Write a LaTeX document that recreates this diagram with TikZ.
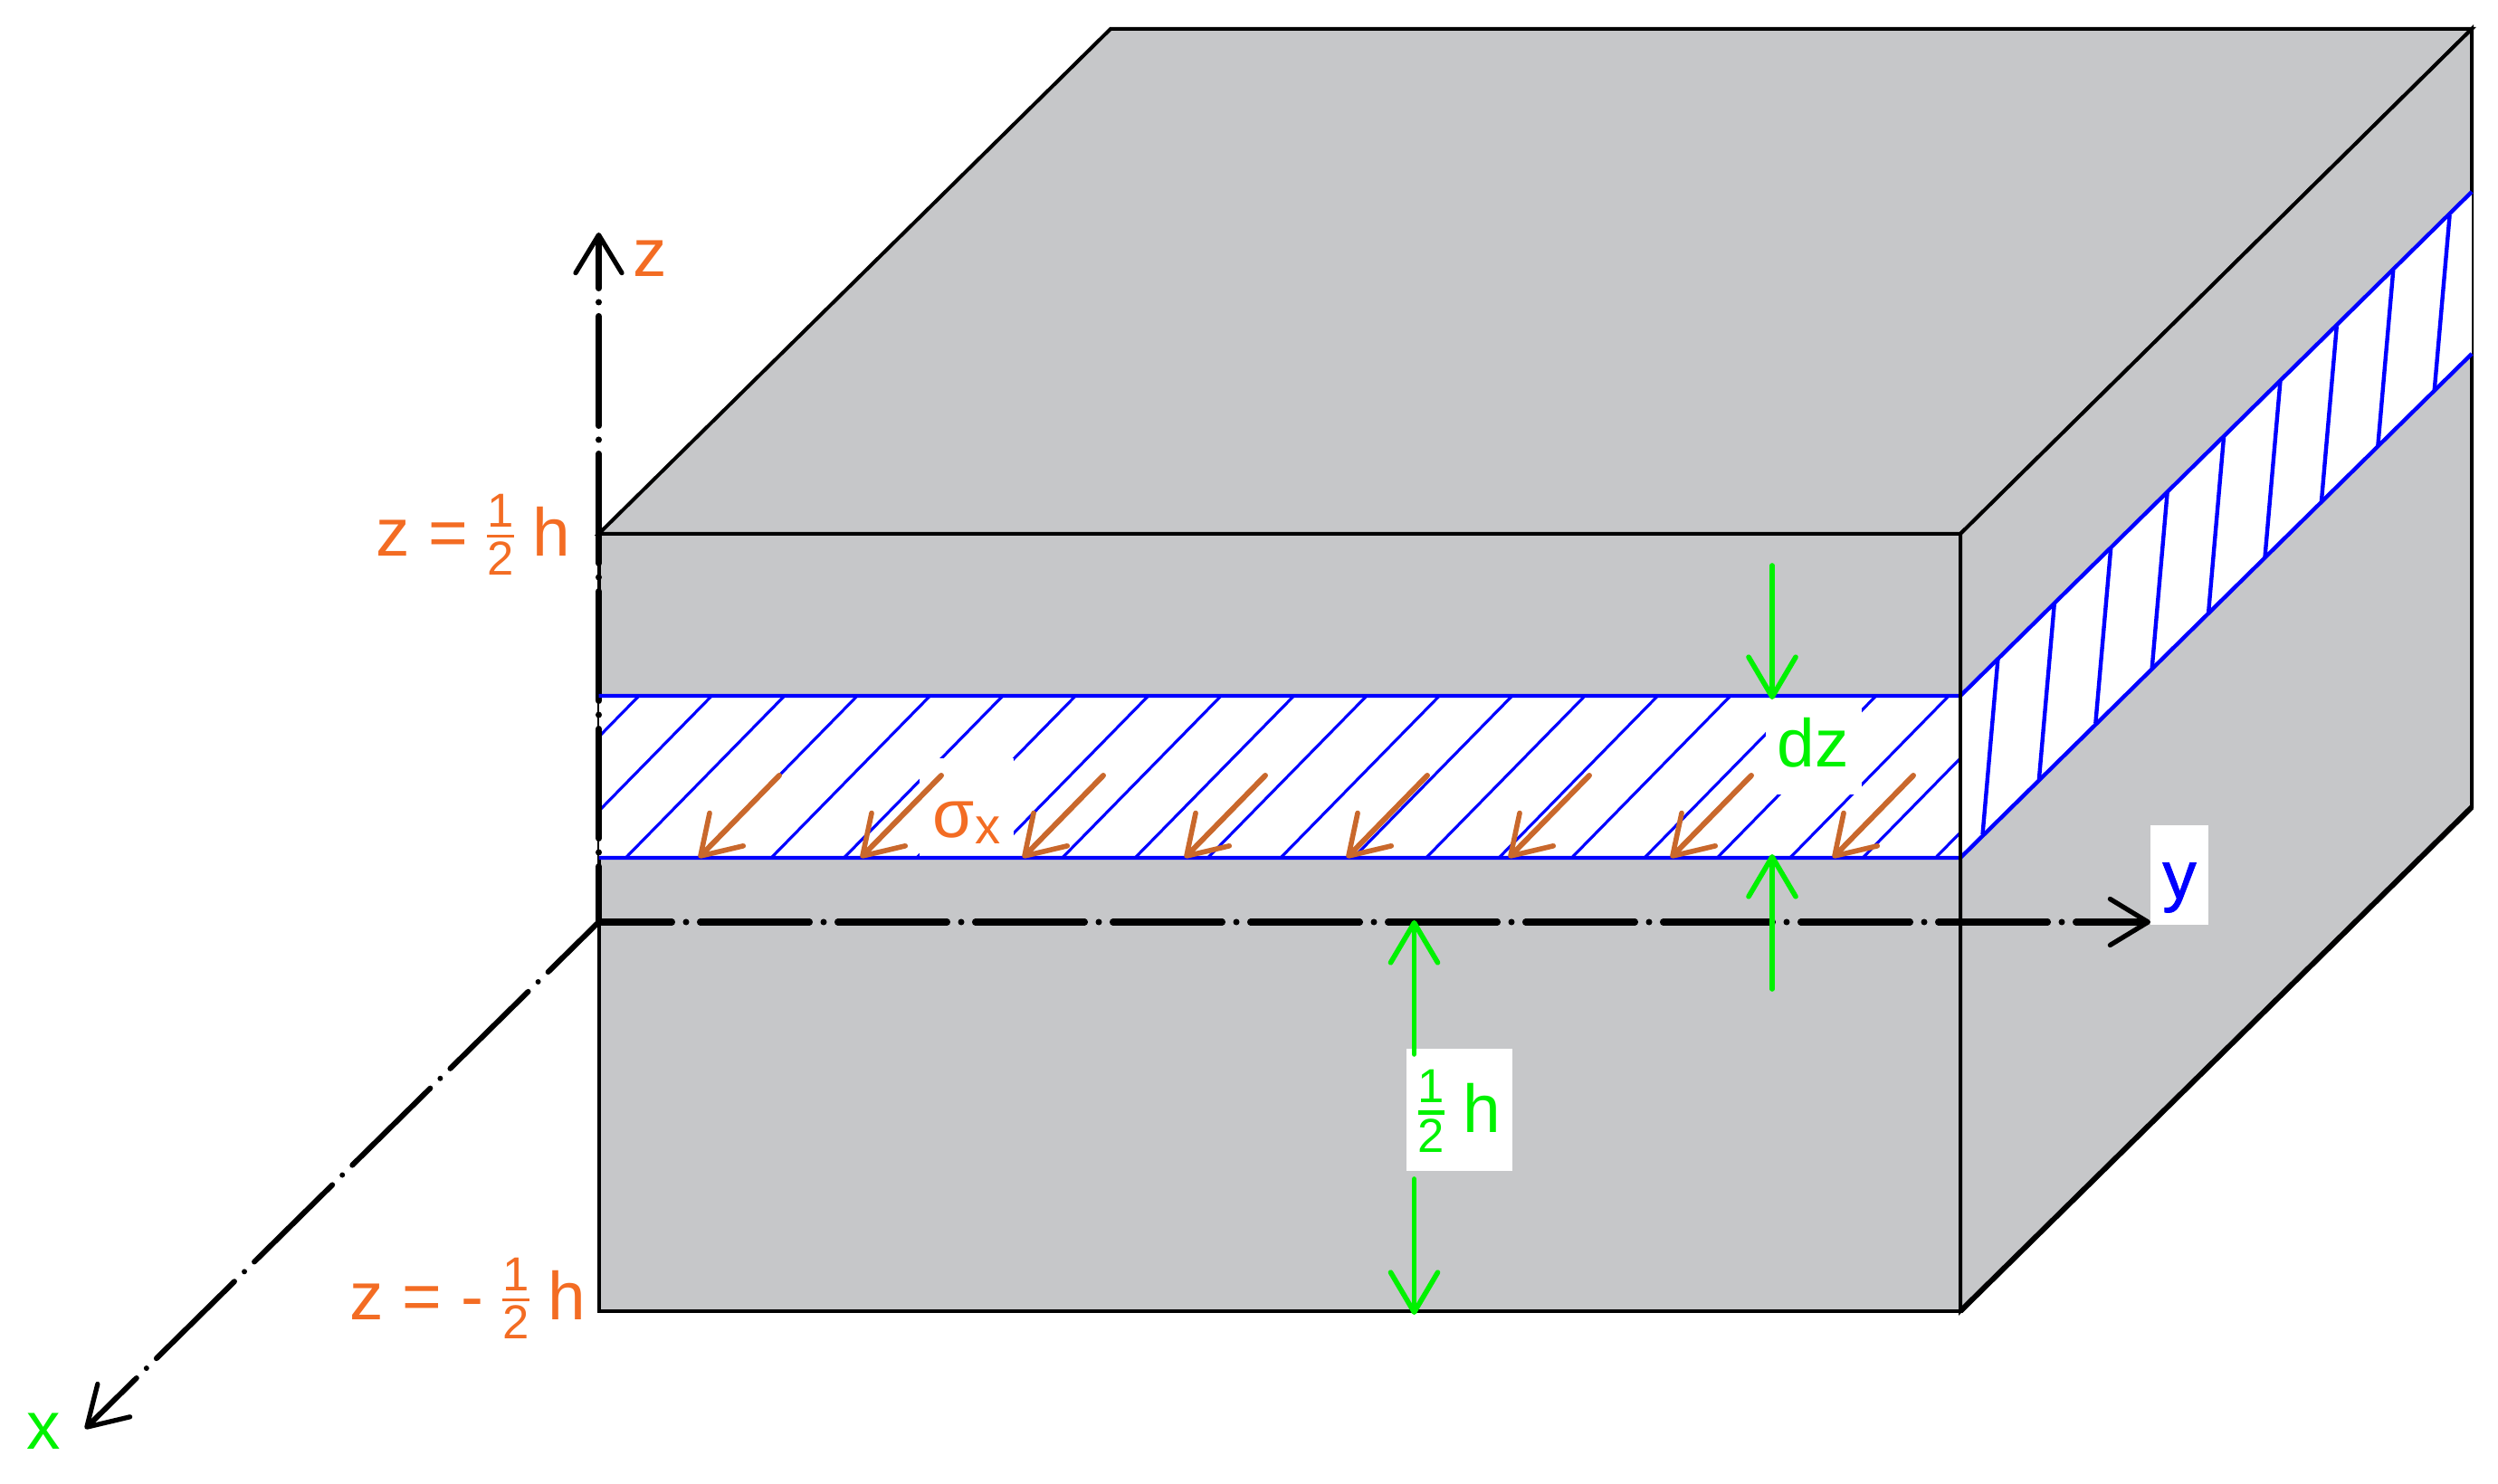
\documentclass[tikz,border=0pt]{standalone}
\usepackage{amsmath}
\usepackage{fontspec}
\setmainfont{Liberation Sans}
\usepackage{tikz}
\usetikzlibrary{arrows.meta}
\usepackage{xcolor}

\definecolor{facegray}{HTML}{C6C7C9}
\definecolor{labelorange}{HTML}{F36C23}
\definecolor{stressbrown}{HTML}{C9682C}
\definecolor{dimgreen}{HTML}{00F200}

\newcommand{\halfterm}[1][0.85pt]{\raisebox{1.2pt}{$\nulldelimiterspace=0pt\genfrac{}{}{#1}{}{\mbox{\fontsize{15}{15}\selectfont 1}}{\mbox{\fontsize{15}{15}\selectfont 2}}$}}

\tikzset{
    faceline/.style={draw=black, fill=facegray, line width=1.14pt, line join=miter},
    bandline/.style={draw=blue, line width=1.25pt},
    hatchline/.style={draw=blue, line width=0.9pt},
    axisline/.style={line width=2pt, line cap=round, -{Straight Barb[length=4.2mm,width=5.1mm,line width=1.5pt,round]}},
    dimarrow/.style={draw=dimgreen, line width=1.6pt, line cap=round, -{Straight Barb[length=4.4mm,width=5.2mm,line width=1.6pt,round]}},
    stressarrow/.style={draw=stressbrown, line width=1.7pt, line cap=round, -{Straight Barb[length=4.1mm,width=5.2mm,line width=1.6pt,round]}},
    orangelabel/.style={text=labelorange, font=\fontsize{21.3}{24}\selectfont, inner sep=0pt, anchor=base west},
    textbox/.style={fill=white, inner sep=0pt, anchor=base, font=\fontsize{21.3}{24}\selectfont}
}

\begin{document}
\begin{tikzpicture}
    \useasboundingbox (0,0) rectangle (27.6,16.4);

    % Block corners
    \coordinate (ftl) at (6.615,10.5);
    \coordinate (ftr) at (21.66,10.5);
    \coordinate (fbr) at (21.66,1.91);
    \coordinate (fbl) at (6.615,1.91);
    \coordinate (btl) at (12.27,16.08);
    \coordinate (btr) at (27.31,16.08);
    \coordinate (bbr) at (27.31,7.48);

    % Layer corners
    \coordinate (ltl) at (6.615,8.71);
    \coordinate (ltr) at (21.66,8.71);
    \coordinate (lbl) at (6.615,6.92);
    \coordinate (lbr) at (21.66,6.92);
    \coordinate (rtop) at (27.31,14.28);
    \coordinate (rbot) at (27.31,12.49);

    % Axis ends
    \coordinate (orig) at (6.615,6.21);
    \coordinate (ztip) at (6.615,13.83);
    \coordinate (ytip) at (23.76,6.21);
    \coordinate (xtip) at (0.94,0.61);

    % Block faces
    \draw[faceline] (ftl) -- (btl) -- (btr) -- (ftr) -- cycle;
    \draw[faceline] (ftr) -- (btr) -- (bbr) -- (fbr) -- cycle;
    \draw[faceline] (ftl) -- (ftr) -- (fbr) -- (fbl) -- cycle;
    \draw[black, line width=1.7pt] (fbr) -- (bbr);

    % Layer
    \fill[white] (ltl) rectangle (lbr);
    \fill[white] (ltr) -- (rtop) -- (rbot) -- (lbr) -- cycle;

    % Hatching
    \begin{scope}
        \clip (ltl) rectangle (lbr);
        \foreach \k in {-2,...,20} {
            \draw[hatchline] ({7.06+0.804*\k},8.71) -- ({5.305+0.804*\k},6.92);
        }
    \end{scope}
    \foreach \k in {0,...,8} {
        \draw[bandline] ({22.074+0.624*\k},{9.115+0.6135*\k}) -- ({21.905+0.624*\k},{7.177+0.6135*\k});
    }

    % Labels inside the layer
    \node[textbox, text=labelorange, minimum width=1.04cm, text height=0.88cm, text depth=0.24cm] (sigma) at (10.68,7.14) {σ\raisebox{-1.9pt}{\fontsize{16}{16}\selectfont x}};
    \node[textbox, text=dimgreen, minimum width=1.06cm, text height=0.79cm, text depth=0.297cm] (dz) at (20.035,7.92) {dz};

    % Axes
    \draw[axisline, dash pattern=on 1.21cm off 0.155cm on 0pt off 0.155cm, dash phase=0.595cm] (orig) -- (ztip);
    \draw[axisline, dash pattern=on 1.21cm off 0.155cm on 0pt off 0.155cm, dash phase=0.40cm] (orig) -- (ytip);
    \draw[axisline, line width=1.7pt, dash pattern=on 1.21cm off 0.155cm on 0pt off 0.155cm, dash phase=0.425cm] (orig) -- (xtip);

    % Layer outline
    \draw[bandline] (ltl) -- (ltr) -- (rtop);
    \draw[bandline] (lbl) -- (lbr) -- (rbot);
    \draw[black, line width=1.14pt] (ftr) -- (fbr);

    % Stress arrows
    \foreach \k in {0,...,7} {
        \draw[stressarrow] ({8.61+1.79*\k},7.83) -- ({7.72+1.79*\k},6.92);
    }

    % Thickness arrows
    \coordinate (dztop) at (19.58,10.15);
    \coordinate (dzupper) at (19.58,8.67);
    \coordinate (dzlower) at (19.58,6.96);
    \coordinate (dzbot) at (19.58,5.47);
    \draw[dimarrow] (dztop) -- (dzupper);
    \draw[dimarrow] (dzbot) -- (dzlower);

    % Half height
    \node[textbox, text=dimgreen, minimum width=1.17cm, text height=0.927cm, text depth=0.423cm] (half) at (16.125,3.883) {\halfterm[1.4pt] h};
    \coordinate (hmid) at (15.625,4.75);
    \coordinate (hup) at (15.625,6.23);
    \coordinate (hlow) at (15.625,3.37);
    \coordinate (hbot) at (15.625,1.87);
    \draw[dimarrow] (hmid) -- (hup);
    \draw[dimarrow] (hlow) -- (hbot);

    % Axis names
    \node[orangelabel] (zname) at (6.99,13.34) {z};
    \node[textbox, text=blue, minimum width=0.64cm, text height=0.81cm, text depth=0.287cm] (yname) at (24.08,6.47) {\addfontfeature{FakeBold=1}y};
    \node[text=dimgreen, inner sep=0pt, anchor=base, font=\fontsize{21.3}{24}\selectfont] (xname) at (0.48,0.38) {x};

    % Height levels
    \node[orangelabel] (ztop) at (4.15,10.25) {z = \halfterm{} h};
    \node[orangelabel] (zbot) at (3.86,1.81) {z = - \halfterm{} h};
\end{tikzpicture}
\end{document}
